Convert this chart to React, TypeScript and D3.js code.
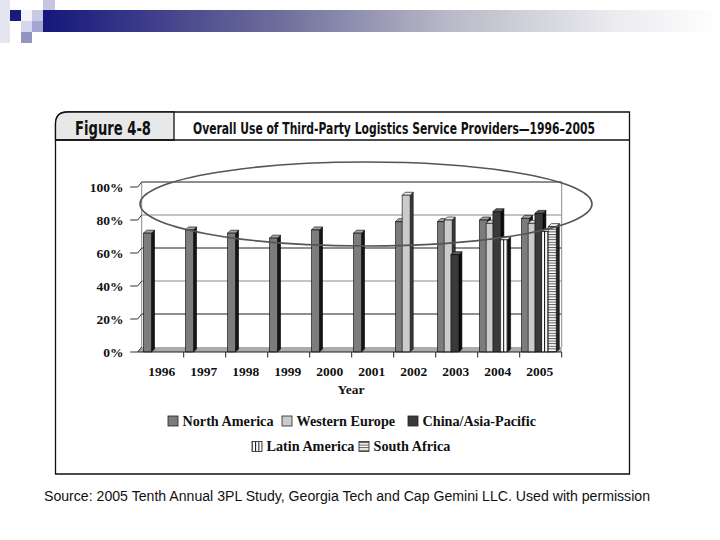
import React from 'react';
import * as d3 from 'd3';

const years = ['1996', '1997', '1998', '1999', '2000', '2001', '2002', '2003', '2004', '2005'];
const seriesNames = ['North America', 'Western Europe', 'China/Asia-Pacific', 'Latin America', 'South Africa'];
const northAmerica = [72, 74, 72, 69, 74, 72, 79, 79, 80, 81];
const westernEurope = [null, null, null, null, null, null, 95, 80, 78, 78];
const chinaAsiaPacific = [null, null, null, null, null, null, null, 59, 85, 84];
const latinAmerica = [null, null, null, null, null, null, null, null, 68, 73];
const southAfrica = [null, null, null, null, null, null, null, null, null, 76];
const yTicks = [0, 20, 40, 60, 80, 100];
const chartTitle = 'Overall Use of Third-Party Logistics Service Providers\u20141996\u20132005';
const figureLabel = 'Figure 4-8';
const axisTitle = 'Year';
const sourceText = 'Source: 2005 Tenth Annual 3PL Study, Georgia Tech and Cap Gemini LLC. Used with permission';

const seriesValues = [northAmerica, westernEurope, chinaAsiaPacific, latinAmerica, southAfrica];
const seriesStyle = [
  { front: '#7c7c7c', top: '#a4a4a4', side: '#151515' },
  { front: '#cbcbcb', top: '#e6e6e6', side: '#3a3a3a' },
  { front: '#3a3a3a', top: '#5c5c5c', side: '#0d0d0d' },
  { front: 'url(#vstripe)', top: '#f4f4f4', side: '#111111' },
  { front: 'url(#hstripe)', top: '#eeeeee', side: '#222222' },
];

const X0 = 141.7, X1 = 561.7;
const DX = -4, DY = 5;
const serif = '"Liberation Serif", "Times New Roman", serif';
const narrow = '"Liberation Sans Narrow", "DejaVu Sans Condensed", "Arial Narrow", sans-serif';

export default function App() {
  const x = d3.scaleBand<string>().domain(years).range([X0, X1]).paddingInner(0).paddingOuter(0);
  const yBack = d3.scaleLinear().domain([0, 100]).range([347, 182]);
  const yFront = d3.scaleLinear().domain([0, 100]).range([347 + DY, 182 + DY]);
  const bw = x.bandwidth();
  const step = 6.7;
  const barW = 8;
  const depth = 3;
  const yBase = yFront(0);

  const legendRows = [
    [{ i: 0, x: 168 }, { i: 1, x: 282 }, { i: 2, x: 408 }],
    [{ i: 3, x: 252 }, { i: 4, x: 359 }],
  ];
  const legendY = [421, 446.5];

  const squares = [
    { x: 0, y: 0, w: 10, h: 43, c: '#e6e6f3' },
    { x: 10, y: 10, w: 11, h: 11, c: '#1b1b7f' },
    { x: 21, y: 10, w: 11, h: 11, c: '#f2f2f9' },
    { x: 32, y: 10, w: 11, h: 11, c: '#c9c9e6' },
    { x: 43, y: 0, w: 12, h: 10, c: '#c6c6e3' },
    { x: 21, y: 21, w: 11, h: 11, c: '#d6d6ec' },
    { x: 32, y: 21, w: 11, h: 11, c: '#a6a6d2' },
    { x: 21, y: 32, w: 11, h: 11, c: '#9494c4' },
  ];

  return (
    <svg width={720} height={540} style={{ position: 'absolute', left: 0, top: 0, background: '#fff' }}>
      <defs>
        <linearGradient id="band" x1="0" x2="1" y1="0" y2="0">
          <stop offset="0" stopColor="#16167c" />
          <stop offset="0.35" stopColor="#6e6e9c" />
          <stop offset="0.6" stopColor="#b9b9c8" />
          <stop offset="0.85" stopColor="#ececf0" />
          <stop offset="1" stopColor="#ffffff" />
        </linearGradient>
        <pattern id="vstripe" width="3.4" height="4" patternUnits="userSpaceOnUse">
          <rect width="3.4" height="4" fill="#ffffff" />
          <rect width="1" height="4" fill="#111" />
        </pattern>
        <pattern id="hstripe" width="4" height="2.6" patternUnits="userSpaceOnUse">
          <rect width="4" height="2.6" fill="#ffffff" />
          <rect width="4" height="1" fill="#555" />
        </pattern>
      </defs>
      <rect width={720} height={540} fill="#fff" />

      {/* slide decoration */}
      <rect x={43} y={10} width={677} height={22} fill="url(#band)" />
      {squares.map((s, k) => (
        <rect key={k} x={s.x} y={s.y} width={s.w} height={s.h} fill={s.c} />
      ))}

      {/* figure frame */}
      <path d="M55.5,474 L55.5,124 Q55.5,112 67.5,112 L629.5,112 L629.5,474 Z" fill="#fff" stroke="#111" strokeWidth={1.3} />
      <path d="M55.5,140 L55.5,124 Q55.5,112 67.5,112 L174,112 L174,140 Z" fill="#e8e8e8" stroke="#111" strokeWidth={1.3} />
      <line x1={55.5} x2={629.5} y1={140} y2={140} stroke="#111" strokeWidth={1.3} />
      <text x={75} y={134.5} fontFamily={narrow} fontWeight="bold" fontSize={20} textLength={76} lengthAdjust="spacingAndGlyphs" fill="#111">{figureLabel}</text>
      <text x={193} y={134} fontFamily={narrow} fontWeight="bold" fontSize={15} textLength={402} lengthAdjust="spacingAndGlyphs" fill="#111">{chartTitle}</text>

      {/* back wall gridlines */}
      {yTicks.filter(t => t > 0).map(t => (
        <line key={t} x1={X0} x2={X1} y1={yBack(t)} y2={yBack(t)} stroke={t % 40 === 20 || t === 100 ? '#1e1e1e' : '#8a8a8a'} strokeWidth={t === 100 ? 1.2 : 1} />
      ))}
      <line x1={X0} x2={X0} y1={yBack(100)} y2={yBack(0)} stroke="#8a8a8a" strokeWidth={1} />
      <line x1={X1} x2={X1} y1={yBack(100)} y2={yBack(0)} stroke="#8a8a8a" strokeWidth={1} />

      {/* floor */}
      <polygon points={`${X0},${yBack(0)} ${X1},${yBack(0)} ${X1},${yFront(0)} ${X0 + DX},${yFront(0)}`} fill="#ababab" />

      {/* y ticks and labels */}
      {yTicks.map(t => (
        <g key={t}>
          <polyline points={`${X0 + DX - 7.5},${yFront(t)} ${X0 + DX},${yFront(t)} ${X0},${yBack(t)}`} fill="none" stroke="#333" strokeWidth={1} />
          <text x={123.5} y={yFront(t)} dy="0.35em" textAnchor="end" fontFamily={serif} fontWeight="bold" fontSize={13.5} fill="#111">{`${t}%`}</text>
        </g>
      ))}

      {/* bars */}
      {years.map((yr, j) => (
        <g key={yr}>
          {seriesValues.map((vals, i) => {
            const v = vals[j];
            if (v == null) return null;
            const st = seriesStyle[i];
            const fx = (x(yr) as number) + 1.8 + i * step;
            const yt = yFront(v);
            return (
              <g key={i} stroke="#000" strokeWidth={0.6} strokeLinejoin="round">
                <polygon points={`${fx + barW},${yt} ${fx + barW + depth},${yt - depth} ${fx + barW + depth},${yBase - depth} ${fx + barW},${yBase}`} fill={st.side} />
                <polygon points={`${fx},${yt} ${fx + barW},${yt} ${fx + barW + depth},${yt - depth} ${fx + depth},${yt - depth}`} fill={st.top} />
                <rect x={fx} y={yt} width={barW} height={yBase - yt} fill={st.front} />
              </g>
            );
          })}
        </g>
      ))}

      {/* x axis */}
      <line x1={X0 + DX} x2={X1} y1={yFront(0)} y2={yFront(0)} stroke="#222" strokeWidth={1} />
      {years.map(yr => (
        <line key={yr} x1={(x(yr) as number) + bw} x2={(x(yr) as number) + bw} y1={yFront(0)} y2={yFront(0) + 5.5} stroke="#222" strokeWidth={1} />
      ))}
      {years.map(yr => (
        <text key={yr} x={(x(yr) as number) + bw / 2 - 1} y={376} textAnchor="middle" fontFamily={serif} fontWeight="bold" fontSize={13.5} fill="#111">{yr}</text>
      ))}
      <text x={351} y={393.5} textAnchor="middle" fontFamily={serif} fontWeight="bold" fontSize={13.5} fill="#111">{axisTitle}</text>

      {/* legend */}
      {legendRows.map((row, r) => (
        <g key={r}>
          {row.map(it => (
            <g key={it.i}>
              <rect x={it.x} y={legendY[r] - 5} width={10} height={10} fill={seriesStyle[it.i].front} stroke="#222" strokeWidth={0.8} />
              <text x={it.x + 14.5} y={legendY[r]} dy="0.35em" fontFamily={serif} fontWeight="bold" fontSize={14.2} fill="#111">{seriesNames[it.i]}</text>
            </g>
          ))}
        </g>
      ))}

      {/* highlight ellipse */}
      <ellipse cx={366} cy={204} rx={226} ry={42} fill="none" stroke="#555" strokeWidth={1.6} />

      {/* source */}
      <text x={44} y={501} fontFamily='"Liberation Sans", Arial, sans-serif' fontSize={14} textLength={606} lengthAdjust="spacingAndGlyphs" fill="#111">{sourceText}</text>
    </svg>
  );
}
